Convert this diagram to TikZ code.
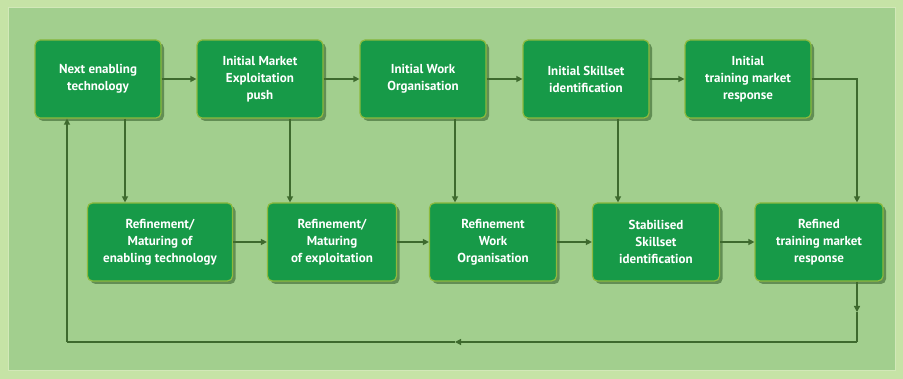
\documentclass[tikz,border=0pt]{standalone}
\usepackage{fontspec}
\setmainfont{PT Sans}
\usetikzlibrary{arrows.meta,shadows}
\definecolor{outerbg}{HTML}{C6E3A6}
\definecolor{innerbg}{HTML}{A2CF8E}
\definecolor{panelline}{HTML}{D2E8B8}
\definecolor{boxfill}{HTML}{179A48}
\definecolor{boxline}{HTML}{8DBA3E}
\definecolor{arrowc}{HTML}{3E6A2E}
\definecolor{shadowc}{HTML}{2F5A26}
\tikzset{
  stepbox/.style={draw=boxline, line width=1.2pt, fill=boxfill, rounded corners=5pt,
    minimum width=126pt, minimum height=78pt, align=center, text=white, inner xsep=2pt,
    font=\fontsize{13}{17}\selectfont\bfseries,
    drop shadow={shadow xshift=3pt, shadow yshift=-3pt, fill=shadowc, opacity=0.55}},
  link/.style={draw=arrowc, line width=1.3pt, -{Triangle[length=6pt,width=6pt]}},
  plainlink/.style={draw=arrowc, line width=1.3pt},
}
\begin{document}
\begin{tikzpicture}[x=1pt,y=-1pt]
\fill[outerbg] (0,0) rectangle (903,379);
\draw[panelline, line width=1pt, fill=innerbg] (8,8) rectangle (895,371);
% top row
\node[stepbox] (a1) at (98,79) {Next enabling\\technology};
\node[stepbox] (a2) at (260,79) {Initial Market\\Exploitation\\push};
\node[stepbox] (a3) at (423,79) {Initial Work\\Organisation};
\node[stepbox] (a4) at (586,79) {Initial Skillset\\identification};
\node[stepbox] (a5) at (748,79) {Initial\\training market\\response};
% bottom row
\node[stepbox, minimum width=145pt] (b1) at (160,242) {Refinement/\\Maturing of\\enabling technology};
\node[stepbox, minimum width=129pt] (b2) at (332,242) {Refinement/\\Maturing\\of exploitation};
\node[stepbox, minimum width=127pt] (b3) at (493,242) {Refinement\\Work\\Organisation};
\node[stepbox, minimum width=127pt] (b4) at (656,242) {Stabilised\\Skillset\\identification};
\node[stepbox, minimum width=128pt] (b5) at (819,242) {Refined\\training market\\response};
% horizontal arrows
\draw[link] (a1) -- (a2);
\draw[link] (a2) -- (a3);
\draw[link] (a3) -- (a4);
\draw[link] (a4) -- (a5);
\draw[link] (b1) -- (b2);
\draw[link] (b2) -- (b3);
\draw[link] (b3) -- (b4);
\draw[link] (b4) -- (b5);
% vertical arrows
\draw[link] (a1.south -| 125,0) -- (b1.north -| 125,0);
\draw[link] (a2.south -| 290,0) -- (b2.north -| 290,0);
\draw[link] (a3.south -| 455,0) -- (b3.north -| 455,0);
\draw[link] (a4.south -| 618,0) -- (b4.north -| 618,0);
\draw[link] (a5.east) -| (b5.north -| 857,0);
% feedback loop
\coordinate (r1) at (857,342);
\coordinate (r2) at (67,342);
\coordinate (rm) at (857,312);
\coordinate (lm) at (455,342);
\draw[link] (b5.south -| 857,0) -- (rm);
\draw[plainlink] (rm) -- (r1);
\draw[link] (r1) -- (lm);
\draw[plainlink] (lm) -- (r2);
\draw[link] (r2) -- (a1.south -| 67,0);
\end{tikzpicture}
\end{document}
